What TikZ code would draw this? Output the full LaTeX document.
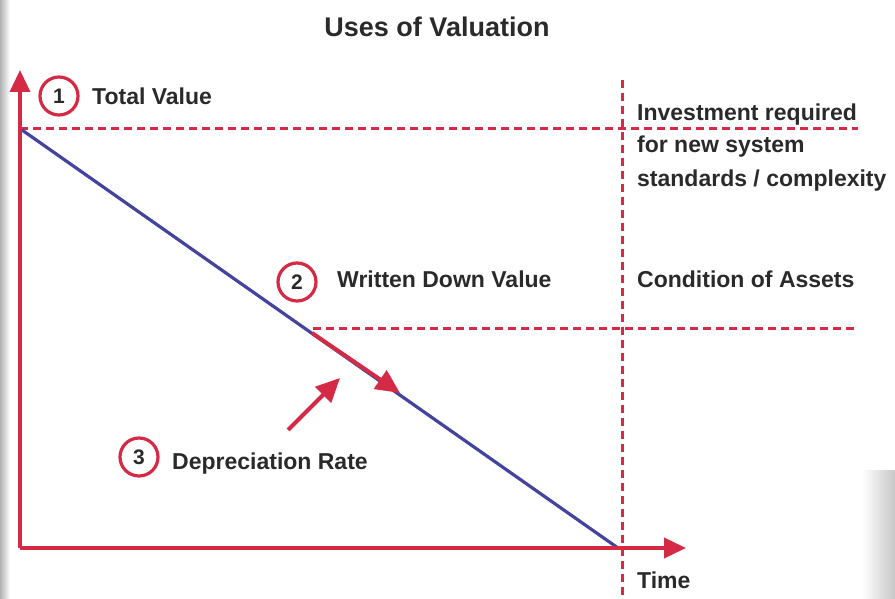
\documentclass[tikz,border=0pt]{standalone}
\usepackage{fontspec}
\setmainfont{Liberation Sans}
\usetikzlibrary{arrows.meta}
\definecolor{axred}{HTML}{D42A45}
\definecolor{lineblue}{HTML}{44449E}
\definecolor{txt}{HTML}{2A2A2A}
\begin{document}
\begin{tikzpicture}[x=1pt,y=-1pt,
  lbl/.style={anchor=base west,inner sep=0pt,text=txt,font=\fontsize{23}{32}\selectfont\bfseries},
  num/.style={circle,draw=axred,line width=3.2pt,minimum size=38pt,inner sep=0pt,text=txt,font=\fontsize{21}{24}\selectfont\bfseries},
  axis/.style={axred,line width=3.6pt,-{Triangle[length=22pt,width=20pt]}},
  guide/.style={axred,line width=3pt,dash pattern=on 8pt off 5pt},
  redarrow/.style={axred,line width=4pt,-{Triangle[length=24pt,width=22pt]}}]
\useasboundingbox (0,0) rectangle (895,599);
\fill[white] (0,0) rectangle (895,599);
\shade[left color=black!30,right color=white] (0,0) rectangle (10,599);
\shade[left color=white,right color=black!22] (862,470) rectangle (895,599);
% title
\node[anchor=base,inner sep=0pt,text=txt,font=\fontsize{27}{30}\selectfont\bfseries] (title) at (437,37) {Uses of Valuation};
% coordinates
\coordinate (origin) at (20,548);
\coordinate (ytop) at (20,70);
\coordinate (xend) at (686,548);
\coordinate (tv) at (22,130);
\coordinate (zero) at (618,548);
\coordinate (tvl) at (20,129);
\coordinate (tvr) at (858,129);
\coordinate (vt) at (622,80);
\coordinate (vb) at (622,599);
\coordinate (wl) at (313,328);
\coordinate (wr) at (858,328);
\coordinate (ra) at (312,333);
\coordinate (rb) at (400,393);
\coordinate (da) at (288,430);
\coordinate (db) at (340,378);
% guides
\draw[guide] (tvl) -- (tvr);
\draw[guide] (vt) -- (vb);
\draw[guide] (wl) -- (wr);
% depreciation line
\draw[lineblue,line width=3.2pt] (tv) -- (zero);
% axes
\draw[axis] (origin) -- (ytop);
\draw[axis] (origin) -- (xend);
% red arrows
\draw[redarrow] (ra) -- (rb);
\draw[redarrow] (da) -- (db);
% numbered circles
\node[num] (n1) at (59,96) {1};
\node[num] (n2) at (297,282) {2};
\node[num] (n3) at (139,457) {3};
% labels
\node[lbl] (l1) at (92,105) {Total Value};
\node[lbl] (l2) at (337,287) {Written Down Value};
\node[lbl] (l3) at (172,469) {Depreciation Rate};
\node[lbl] (inv1) at (637,121) {Investment required};
\node[lbl] (inv2) at (637,153) {for new system};
\node[lbl] (inv3) at (637,186) {standards / complexity};
\node[lbl] (cond) at (637,287) {Condition of Assets};
\node[lbl] (time) at (637,588) {Time};
\end{tikzpicture}
\end{document}
